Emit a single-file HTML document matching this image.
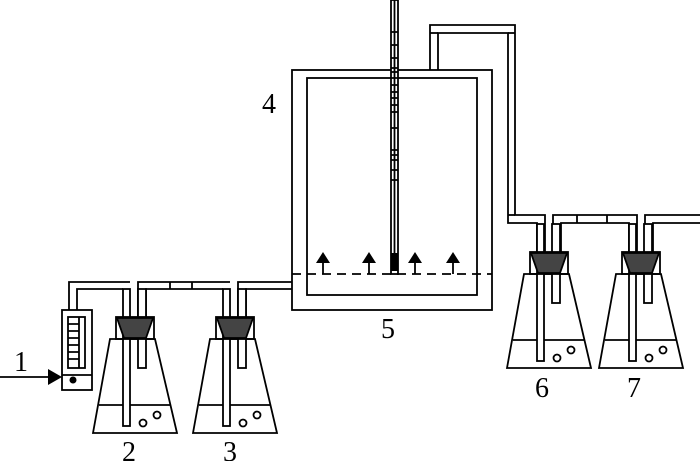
<!DOCTYPE html>
<html><head><style>body{margin:0;background:#fff}svg{display:block}text{font-family:"Liberation Serif",serif;font-size:28px}</style></head>
<body>
<svg width="700" height="461" viewBox="0 0 700 461" xmlns="http://www.w3.org/2000/svg">
<defs>
<g id="flask" fill="none" stroke="#000" stroke-width="1.8">
  <path d="M0,433 L17,339 L62,339 L84,433 Z" fill="#fff"/>
  <line x1="6" y1="405" x2="78" y2="405"/>
  <rect x="30" y="289" width="7" height="137" fill="#fff"/>
  <rect x="45" y="289" width="8" height="79" fill="#fff"/>
  <rect x="23" y="317" width="38" height="22"/>
  <path d="M24,318 L60,318 L53,338 L31,338 Z" fill="#444"/>
  <circle cx="50" cy="423" r="3.5"/>
  <circle cx="64" cy="415" r="3.5"/>
</g>
</defs>
<g fill="none" stroke="#000" stroke-width="1.8">
<path d="M69,310 V282 H130"/><path d="M77,310 V289 H123"/>
<path d="M138,317 V282 H230"/><path d="M146,317 V289 H223"/>
<line x1="170" y1="282" x2="170" y2="289"/><line x1="192" y1="282" x2="192" y2="289"/>
<path d="M238,317 V282 H292"/><path d="M246,317 V289 H292"/>
<rect x="62" y="310" width="30" height="80" fill="#fff"/>
<rect x="68" y="317" width="17" height="51"/>
<line x1="62" y1="375" x2="92" y2="375"/>
<path d="M68,324 H79 M68,331 H79 M68,338 H79 M68,345 H79 M68,352 H79 M68,359 H79 M79,317 V368"/>
<line x1="0" y1="377" x2="50" y2="377"/>
</g>
<path d="M48,369 L62,377 L48,385 Z" fill="#000"/>
<circle cx="73" cy="380" r="3.5" fill="#000"/>
<use href="#flask" x="93" y="0"/>
<use href="#flask" x="193" y="0"/>
<g fill="none" stroke="#000" stroke-width="1.8">
<rect x="292" y="70" width="200" height="240" fill="#fff"/>
<rect x="307" y="78" width="170" height="217"/>
<line x1="292" y1="274" x2="492" y2="274" stroke-dasharray="9,6"/>
<path d="M323,274 V262 M369,274 V262 M415,274 V262 M453,274 V262"/>
<path d="M430,70 V25 H515 V215 H545 V252"/>
<path d="M438,70 V33 H508 V223 H537 V252"/>
<line x1="430" y1="33" x2="438" y2="33"/><line x1="508" y1="33" x2="515" y2="33"/>
<line x1="508" y1="215" x2="515" y2="215"/>
<path d="M553,252 V215 H637 V252"/><path d="M561,252 V223 H629 V252"/>
<line x1="577" y1="215" x2="577" y2="223"/><line x1="607" y1="215" x2="607" y2="223"/>
<path d="M645,252 V215 H700"/><path d="M653,252 V223 H700"/>
<rect x="391" y="0" width="7" height="274" fill="#fff"/>
<line x1="394.5" y1="0" x2="394.5" y2="253"/>
<path d="M391,32 H398 M391,45 H398 M391,58 H398 M391,68 H398 M391,72 H398 M391,78 H398 M391,85 H398 M391,92 H398 M391,98 H398 M391,105 H398 M391,112 H398 M391,128 H398 M391,150 H398 M391,155 H398 M391,160 H398 M391,170 H398 M391,180 H398"/>
</g>
<rect x="391" y="253" width="7" height="18" fill="#000"/>
<g fill="#000">
<path d="M316,263 L323,252 L330,263 Z"/><path d="M362,263 L369,252 L376,263 Z"/>
<path d="M408,263 L415,252 L422,263 Z"/><path d="M446,263 L453,252 L460,263 Z"/>
</g>
<use href="#flask" x="507" y="-65"/>
<use href="#flask" x="599" y="-65"/>
<text x="14" y="371">1</text>
<text x="122" y="461">2</text>
<text x="223" y="461">3</text>
<text x="262" y="113">4</text>
<text x="381" y="338">5</text>
<text x="535" y="397">6</text>
<text x="627" y="397">7</text>
</svg>
</body></html>
